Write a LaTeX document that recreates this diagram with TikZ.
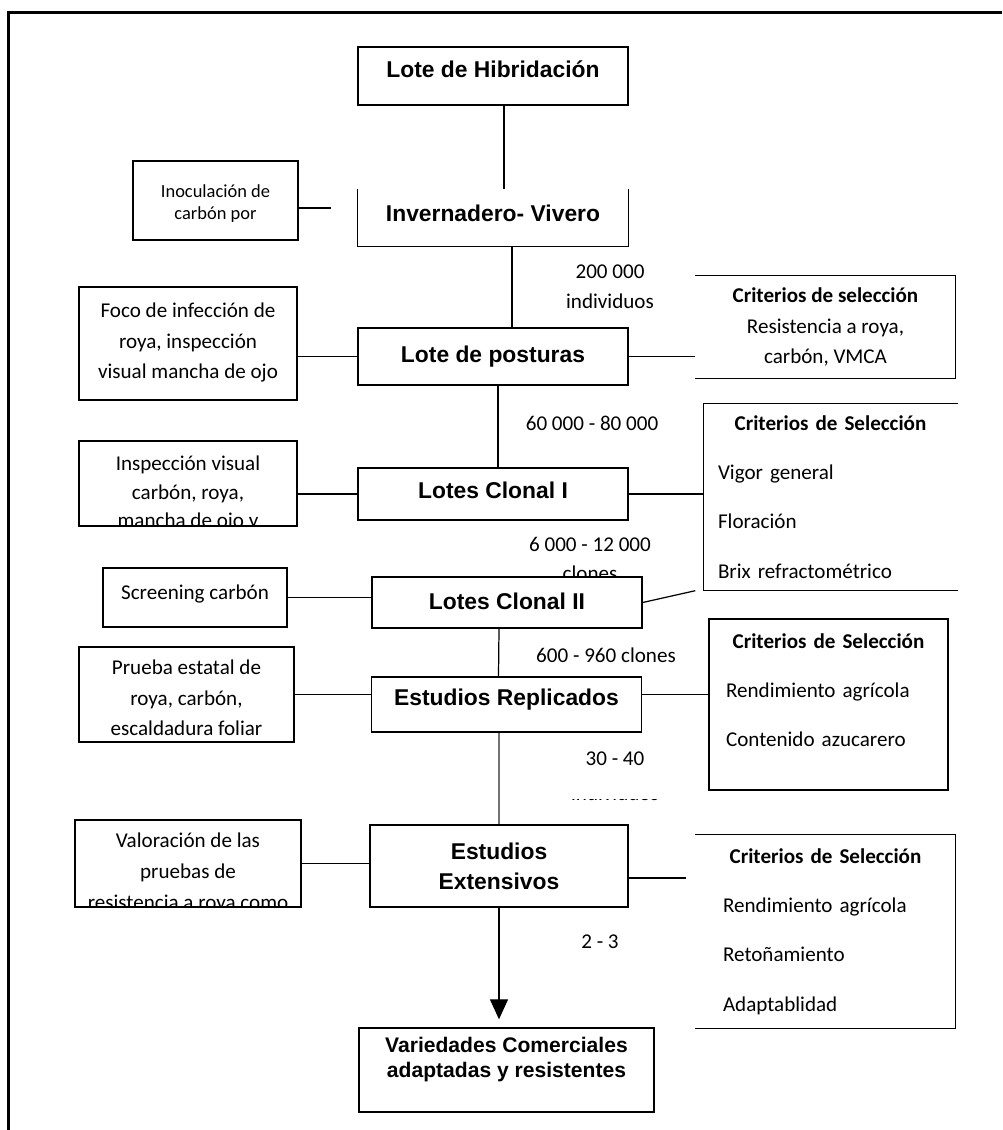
\documentclass[tikz,border=0pt]{standalone}
\usepackage{fontspec}
\setmainfont{Liberation Sans}
\newfontfamily\calib{Carlito}
\usetikzlibrary{arrows.meta}

\begin{document}
\begin{tikzpicture}[x=0.02cm, y=-0.02cm,
    stage/.style={inner sep=0pt, line width=0.8pt, fill=white, minimum width=5.4cm,
      align=center, font=\fontsize{13}{17}\selectfont\bfseries},
    side/.style={draw, inner sep=0pt, line width=0.8pt},
    sidetxt/.style={draw=none, fill=none, minimum width=0pt, minimum height=0pt, inner sep=0pt,
      anchor=north, align=center, font=\calib\fontsize{12}{17.3}\selectfont},
    crit/.style={inner sep=0pt, line width=0.8pt, align=left,
      font=\calib\fontsize{12}{28}\selectfont},
    num/.style={inner sep=0pt, align=center, font=\calib\fontsize{12}{17}\selectfont},
    link/.style={line width=0.7pt}]
  \useasboundingbox (0,0) rectangle (1002,1130);
  \draw[line width=1.7pt] (1002,12.5) -- (8.5,12.5) -- (8.5,1130);

  % counts beside the main line
  \node[num] (n1) at (610,287) {200 000\\individuos};
  \node[num] (n2) at (592,423) {60 000 - 80 000};
  \node[num, font=\calib\fontsize{12}{16.5}\selectfont] (n3) at (590,559) {6 000 - 12 000\\clones};
  \node[num] (n4) at (606,655) {600 - 960 clones};
  \begin{scope}
    \clip (560,745) rectangle (680,772) (540,798.5) rectangle (690,801);
    \node[num, font=\calib\fontsize{12}{20}\selectfont] (n5) at (615,776) {30 - 40\\individuos};
  \end{scope}
  \node[num] (n6) at (600,942) {2 - 3};

  % main stages
  \node[stage, draw, minimum height=1.16cm, text depth=8pt] (hib) at (493,76) {Lote de Hibridación};
  \node[stage, minimum height=1.12cm, text depth=5.5pt] (inv) at (493,218) {Invernadero- Vivero};
  \draw[line width=0.8pt] (inv.north west) -- (inv.south west) -- (inv.south east) -- (inv.north east);
  \node[stage, draw, minimum height=1.14cm] (post) at (493,356.5) {Lote de posturas};
  \node[stage, draw, minimum height=1.04cm, text depth=4pt] (cl1) at (493,494) {Lotes Clonal I};
  \node[stage, draw, minimum height=1.02cm, text depth=2pt] (cl2) at (507,602.5) {Lotes Clonal II};
  \node[stage, draw, minimum height=1.1cm, text depth=8pt] (rep) at (506.5,704.5) {Estudios Replicados};
  \node[stage, draw, minimum width=5.16cm, minimum height=1.64cm] (ext) at (499,866) {Estudios\\Extensivos};
  \node[stage, draw, minimum width=5.9cm, minimum height=1.68cm, text depth=14pt,
    font=\fontsize{12}{14.2}\selectfont\bfseries] (var) at (506.5,1070) {Variedades Comerciales\\adaptadas y resistentes};

  % screening boxes on the left
  \node[side, minimum width=3.3cm, minimum height=1.58cm,
    path picture={\node[sidetxt, font=\calib\fontsize{10.5}{12.5}\selectfont] (inotxt)
      at ([yshift=-0.46cm]path picture bounding box.north) {Inoculación de\\carbón por};}] (ino) at (215.5,200.5) {};
  \node[side, minimum width=4.36cm, minimum height=2.26cm,
    path picture={\node[sidetxt] (focotxt) at ([yshift=-0.31cm]path picture bounding box.north)
      {Foco de infección de\\roya, inspección\\visual mancha de ojo};}] (foco) at (188,343.5) {};
  \node[side, minimum width=4.36cm, minimum height=1.7cm,
    path picture={\node[sidetxt, font=\calib\fontsize{12}{16.4}\selectfont] (insptxt)
      at ([yshift=-0.28cm]path picture bounding box.north) {Inspección visual\\carbón, roya,\\mancha de ojo y};}] (insp) at (188,483.5) {};
  \node[side, minimum width=3.68cm, minimum height=1.18cm,
    path picture={\node[sidetxt] (scrtxt) at ([yshift=-0.33cm]path picture bounding box.north)
      {Screening carbón};}] (scr) at (195,597.5) {};
  \node[side, minimum width=4.3cm, minimum height=1.9cm,
    path picture={\node[sidetxt] (pruetxt) at ([yshift=-0.25cm]path picture bounding box.north)
      {Prueba estatal de\\roya, carbón,\\escaldadura foliar};}] (prue) at (186.5,694.5) {};
  \node[side, minimum width=4.52cm, minimum height=1.74cm,
    path picture={\node[sidetxt, font=\calib\fontsize{12}{17.6}\selectfont] (valtxt)
      at ([yshift=-0.25cm]path picture bounding box.north) {Valoración de las\\pruebas de\\resistencia a roya como};}] (val) at (188,863.5) {};

  % selection criteria on the right
  \node[crit, align=center, minimum width=5.18cm, minimum height=2.04cm,
    font=\calib\fontsize{12}{17.3}\selectfont] (crit1) at (825.5,327)
    {\textbf{Criterios de selección}\\Resistencia a roya,\\carbón, VMCA};
  \draw[line width=0.8pt] (crit1.north west) -- (crit1.north east) -- (crit1.south east) -- (crit1.south west);
  \node[crit, text width=4.5cm, minimum width=5.06cm, minimum height=3.72cm] (crit2) at (830.5,497)
    {\makebox[\linewidth]{\textbf{Criterios de Selección}}\\Vigor general\\Floración\\Brix refractométrico};
  \draw[line width=0.8pt] (crit2.north east) -- (crit2.north west) -- (crit2.south west) -- (crit2.south east);
  \node[crit, draw, minimum width=4.78cm, minimum height=3.42cm,
    path picture={\node[crit, draw=none, minimum width=0pt, minimum height=0pt, text width=4.1cm,
      anchor=north] (crit3txt) at ([yshift=-0.27cm]path picture bounding box.north)
      {\makebox[\linewidth]{\textbf{Criterios de Selección}}\\Rendimiento agrícola\\Contenido azucarero};}]
    (crit3) at (828.5,704.5) {};
  \node[crit, text width=4.1cm, minimum width=5.18cm, minimum height=3.86cm] (crit4) at (825.5,931.5)
    {\makebox[\linewidth]{\textbf{Criterios de Selección}}\\Rendimiento agrícola\\Retoñamiento\\Adaptablidad};
  \draw[line width=0.8pt] (crit4.north west) -- (crit4.north east) -- (crit4.south east) -- (crit4.south west);

  \coordinate (inoend) at (331,208);
  \coordinate (c4end) at (686,878);
  \begin{scope}[link]
    \draw ([xshift=0.22cm]hib.south) -- ([xshift=0.22cm]inv.north);
    \draw ([xshift=0.38cm]inv.south) -- ([xshift=0.38cm]post.north);
    \draw ([xshift=0.1cm]post.south) -- ([xshift=0.1cm]cl1.north);
    \draw ([xshift=-0.16cm]cl2.south) -- ([xshift=-0.16cm]rep.north);
    \draw[black!55] (ext.north |- rep.south) -- (ext.north);
    \draw[-{Triangle[width=0.36cm,length=0.4cm]}, shorten >=0.16cm] (ext.south) -- (ext.south |- var.north);
    \draw (ino.east |- inoend) -- (inoend);
    \draw (foco.east |- post.west) -- (post.west);
    \draw (post.east) -- (post.east -| crit1.west);
    \draw (insp.east |- cl1.west) -- (cl1.west);
    \draw (cl1.east) -- (cl1.east -| crit2.west);
    \draw (scr.east) -- (scr.east -| cl2.west);
    \draw (cl2.east) -- ([xshift=-0.16cm]crit2.south west);
    \draw (prue.east) -- (prue.east -| rep.west);
    \draw ([yshift=0.2cm]rep.east) -- ([yshift=0.2cm]crit3.west);
    \draw (val.east) -- (val.east -| ext.west);
    \draw (ext.east |- c4end) -- (c4end);
  \end{scope}
\end{tikzpicture}
\end{document}
